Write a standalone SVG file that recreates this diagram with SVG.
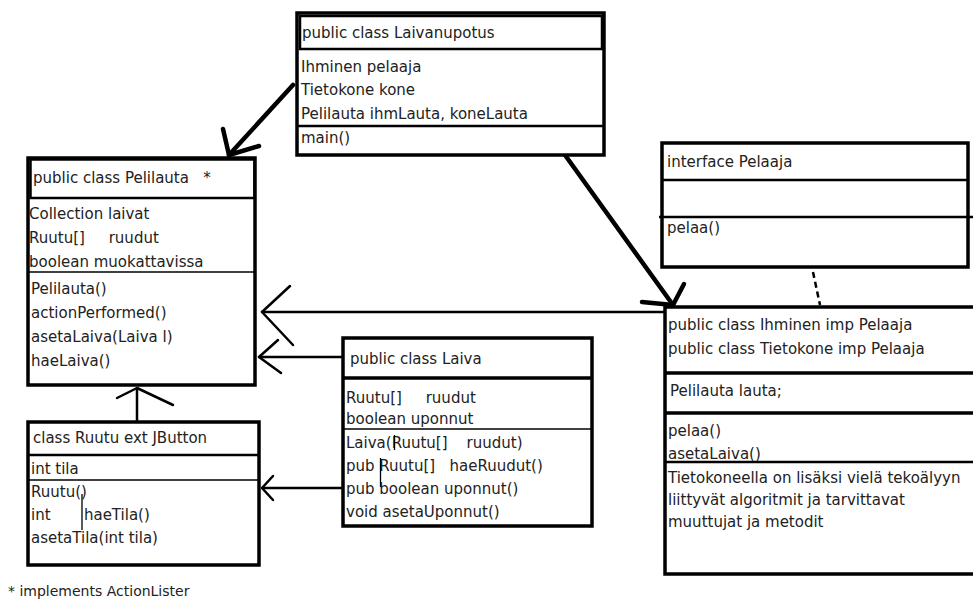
<svg xmlns="http://www.w3.org/2000/svg" width="973" height="605" viewBox="0 0 973 605">
<style>
text{font-family:"DejaVu Sans","Liberation Sans",sans-serif;font-size:15px;fill:#222;white-space:pre}
.box{fill:#fff;stroke:#000;stroke-width:3.5}
.sec{fill:none;stroke:#000;stroke-width:2.5}
.thin{fill:none;stroke:#000;stroke-width:1.3}
.bar{fill:none;stroke:#000;stroke-width:1.3}
.con{fill:none;stroke:#000;stroke-width:2.5;stroke-linecap:round;stroke-linejoin:round}
.thick{fill:none;stroke:#000;stroke-width:4.5;stroke-linecap:round;stroke-linejoin:round}
</style>
<rect width="973" height="605" fill="#fff"/>

<g id="connectors">
  <!-- Laivanupotus -> Pelilauta -->
  <path class="thick" d="M293,85 L229,155"/>
  <path class="thick" d="M223,129 L229,155 L259,146"/>
  <!-- Laivanupotus -> Ihminen -->
  <path class="thick" d="M565,155 L673,305"/>
  <path class="thick" d="M642,302 L673,305 L684,284"/>
  <!-- Ihminen -> Pelilauta -->
  <path class="con" d="M667,312 L262,312"/>
  <path class="con" d="M290,286 L262,312 L293,345"/>
  <!-- Laiva -> Pelilauta -->
  <path class="con" d="M343,357 L259,357"/>
  <path class="con" d="M278,340 L259,357 L281,373"/>
  <!-- Laiva -> Ruutu -->
  <path class="con" d="M343,488 L262,488"/>
  <path class="con" d="M273,476 L262,488 L273,500"/>
  <!-- Ruutu -> Pelilauta -->
  <path class="con" d="M137,421 L137,388"/>
  <path class="con" d="M117,398 L137,388 L173,405"/>
  <!-- Ihminen implements Pelaaja (dashed) -->
  <path d="M813,272 L820,305" fill="none" stroke="#000" stroke-width="2.5" stroke-dasharray="6,4"/>
</g>

<g id="Laivanupotus">
  <rect class="box" x="297" y="13" width="307" height="142"/>
  <rect class="sec" x="300" y="16" width="302" height="33"/>
  <line class="sec" x1="297" y1="126" x2="604" y2="126"/>
  <text x="302" y="38">public class Laivanupotus</text>
  <text x="301" y="72">Ihminen pelaaja</text>
  <text x="301" y="95">Tietokone kone</text>
  <text x="301" y="119">Pelilauta ihmLauta, koneLauta</text>
  <text x="301" y="143">main()</text>
</g>

<g id="Pelilauta">
  <rect class="box" x="28" y="158" width="227" height="227"/>
  <rect class="sec" x="30.5" y="159.5" width="224" height="38.5"/>
  <line class="thin" x1="28" y1="272" x2="255" y2="272"/>
  <text x="33" y="183">public class Pelilauta   *</text>
  <text x="29" y="219">Collection laivat</text>
  <text x="29" y="243">Ruutu[]     ruudut</text>
  <text x="29" y="267">boolean muokattavissa</text>
  <text x="31" y="294">Pelilauta()</text>
  <text x="31" y="318">actionPerformed()</text>
  <text x="31" y="342">asetaLaiva(Laiva l)</text>
  <text x="31" y="366">haeLaiva()</text>
</g>

<g id="Ruutu">
  <rect class="box" x="28" y="422" width="231" height="143"/>
  <line class="sec" x1="28" y1="455" x2="259" y2="455"/>
  <line class="thin" x1="28" y1="480" x2="259" y2="480"/>
  <text x="33" y="443">class Ruutu ext JButton</text>
  <text x="31" y="474">int tila</text>
  <text x="31" y="497">Ruutu()</text>
  <text x="31" y="520">int       haeTila()</text>
  <line class="bar" x1="82" y1="494" x2="82" y2="530"/>
  <text x="31" y="543">asetaTila(int tila)</text>
</g>

<g id="Laiva">
  <rect class="box" x="343" y="338" width="249" height="188"/>
  <line class="box" x1="343" y1="378" x2="592" y2="378"/>
  <line class="thin" x1="343" y1="429" x2="592" y2="429"/>
  <text x="350" y="364">public class Laiva</text>
  <text x="346" y="403">Ruutu[]     ruudut</text>
  <text x="346" y="424">boolean uponnut</text>
  <text x="346" y="448">Laiva(Ruutu[]    ruudut)</text>
  <line class="bar" x1="394.5" y1="435" x2="394.5" y2="450"/>
  <text x="346" y="471">pub Ruutu[]   haeRuudut()</text>
  <line class="bar" x1="380.5" y1="458" x2="380.5" y2="487"/>
  <text x="346" y="494">pub boolean uponnut()</text>
  <text x="346" y="517">void asetaUponnut()</text>
</g>

<g id="Pelaaja">
  <rect class="box" x="662" y="143" width="306" height="124"/>
  <line class="sec" x1="662" y1="180" x2="968" y2="180"/>
  <line class="sec" x1="659" y1="217" x2="973" y2="217"/>
  <text x="667" y="167">interface Pelaaja</text>
  <text x="667" y="233">pelaa()</text>
</g>

<g id="Ihminen">
  <rect class="box" x="665" y="307" width="320" height="267"/>
  <line class="box" x1="665" y1="373" x2="973" y2="373"/>
  <line class="box" x1="665" y1="413" x2="973" y2="413"/>
  <line class="sec" x1="665" y1="462" x2="973" y2="462"/>
  <text x="668" y="330">public class Ihminen imp Pelaaja</text>
  <text x="668" y="354">public class Tietokone imp Pelaaja</text>
  <text x="670" y="396">Pelilauta lauta;</text>
  <text x="668" y="436">pelaa()</text>
  <text x="668" y="459">asetaLaiva()</text>
  <text x="668" y="483">Tietokoneella on lisäksi vielä tekoälyyn</text>
  <text x="668" y="505">liittyvät algoritmit ja tarvittavat</text>
  <text x="668" y="527">muuttujat ja metodit</text>
</g>

<text x="8" y="596" style="font-size:14px">* implements ActionLister</text>
</svg>
